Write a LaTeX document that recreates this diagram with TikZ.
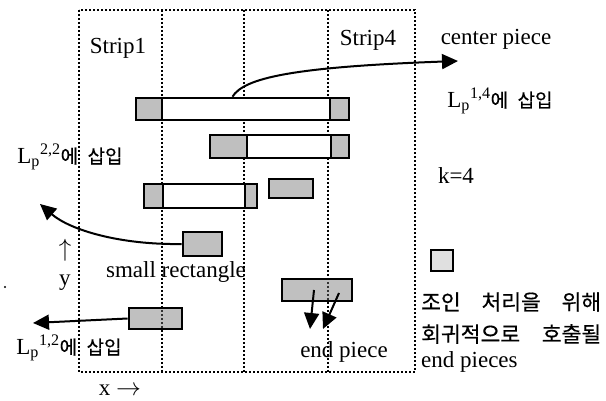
\documentclass[tikz,border=0pt]{standalone}
\usepackage{fontspec}
\setmainfont{Liberation Serif}
\newfontfamily\kr[FakeBold=0.5]{Noto Sans CJK KR}
\usepackage{tikz}
\usepackage{xcolor}
\usetikzlibrary{arrows.meta}

\newcommand{\krlabel}[1]{{\kr\fontsize{19}{22}\selectfont #1}}
\newcommand{\krline}[1]{{\kr\fontsize{21.5}{25}\selectfont #1}}

\tikzset{
  stripline/.style={line width=2.4pt, dash pattern=on 2pt off 2pt},
  piece/.style={draw, line width=2.6pt, fill=white, inner sep=0pt},
  endbox/.style={draw, line width=2.6pt, fill=black!55, fill opacity=0.45, inner sep=0pt},
  legendbox/.style={draw, line width=2.6pt, fill=black!12, inner sep=0pt},
  conn/.style={line width=2pt, -{Triangle[length=16pt, width=15pt]}},
}

\begin{document}
\begin{tikzpicture}[x=1pt, y=-1pt, font=\fontsize{23}{27}\selectfont]

        \useasboundingbox (0,0) rectangle (606,401);

        % strips
        \draw[stripline] (79,10) rectangle (415,372);
        \foreach \sx in {162, 244, 328}
        {
        \draw[stripline] (\sx,10) -- (\sx,372);
        }
        \node[] (strip1) at (118,48) {Strip1};
        \node[] (strip4) at (368,40) {Strip4};

        % long pieces with end pieces
        \node[piece, minimum width=213pt, minimum height=22pt] (p1) at (242.5,109) {};
        \node[endbox, anchor=west, minimum width=26pt, minimum height=22pt] (p1l) at (p1.west) {};
        \node[endbox, anchor=east, minimum width=19pt, minimum height=22pt] (p1r) at (p1.east) {};

        \node[piece, minimum width=139pt, minimum height=23pt] (p2) at (279.5,146.5) {};
        \node[endbox, anchor=west, minimum width=37pt, minimum height=23pt] (p2l) at (p2.west) {};
        \node[endbox, anchor=east, minimum width=18pt, minimum height=23pt] (p2r) at (p2.east) {};

        \node[piece, minimum width=113pt, minimum height=24pt] (p3) at (200.5,196) {};
        \node[endbox, anchor=west, minimum width=19pt, minimum height=24pt] (p3l) at (p3.west) {};
        \node[endbox, anchor=east, minimum width=12pt, minimum height=24pt] (p3r) at (p3.east) {};

        % small rectangles
        \node[endbox, minimum width=44pt, minimum height=19pt] (q1) at (291,188.5) {};
        \node[endbox, minimum width=39pt, minimum height=24pt] (small) at (202.5,244) {};
        \node[endbox, minimum width=70pt, minimum height=22pt] (endp) at (317,290) {};
        \node[endbox, minimum width=53pt, minimum height=21pt] (q2) at (155.5,318.5) {};

        % center piece arrow
        \coordinate (cpend) at (458,61);
        \draw[conn] ([xshift=-10pt]p1.north) .. controls (244,78) and (292,67) .. (cpend);
        \node[] (cptext) at (496,39) {center piece};
        \node[] (l14) at (500,101) {L\textsubscript{p}\textsuperscript{1,4}\krlabel{에\hspace{0.5em}삽입}};

        % left arrows
        \coordinate (l22end) at (40,204);
        \draw[conn] (small.west) .. controls (120,245) and (70,230) .. (l22end);
        \node[] (l22) at (70,157) {L\textsubscript{p}\textsuperscript{2,2}\krlabel{에\hspace{0.5em}삽입}};
        \node[] (smalltext) at (176,272) {small rectangle};

        \coordinate (l12end) at (33,323);
        \draw[conn] (q2.west) -- (l12end);
        \node[] (l12) at (69,348) {L\textsubscript{p}\textsuperscript{1,2}\krlabel{에\hspace{0.5em}삽입}};

        % end piece arrows
        \coordinate (e1) at (310,329);
        \coordinate (e2) at (323,329);
        \draw[conn] ([xshift=-3pt]endp.center) -- (e1);
        \draw[conn] ([xshift=22pt, yshift=-3pt]endp.center) -- (e2);
        \node[] (eptext) at (344,352) {end piece};

        % axes
        \node[] (yarrow) at (65,250) {$\uparrow$};
        \node[] (ylabel) at (65,283) {y};
        \node[] (xlabel) at (120,390) {x $\rightarrow$};
        \node[circle, fill, inner sep=0.8pt] (dot) at (5,287) {};

        % legend
        \node[] (ktext) at (456,176) {k=4};
        \node[legendbox, minimum width=22pt, minimum height=21pt] (legend) at (442,260.5) {};
        \node[anchor=west, inner sep=0pt] (leg1) at (421,302) {\krline{\makebox[180pt][l]{조인\hfill 처리을\hfill 위해}}};
        \node[anchor=west, inner sep=0pt] (leg2) at (421,334) {\krline{\makebox[180pt][l]{회귀적으로\hfill 호출될}}};
        \node[anchor=west, inner sep=0pt] (leg3) at (421,362) {end pieces};

\end{tikzpicture}
\end{document}
